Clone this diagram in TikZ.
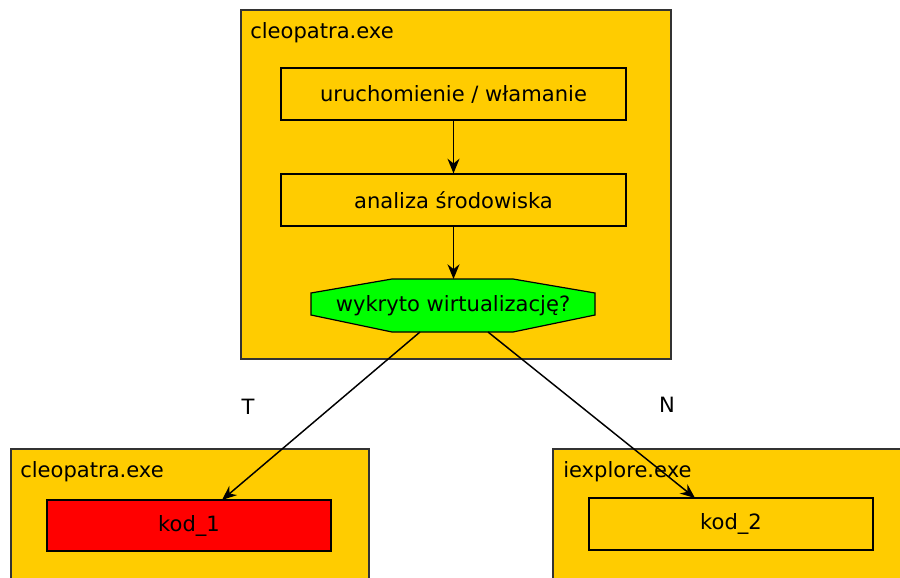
\documentclass[tikz,border=0pt]{standalone}
\usepackage{fontspec}
\setmainfont{DejaVu Sans}
\usetikzlibrary{arrows.meta}
\definecolor{boxorange}{RGB}{255,204,0}
\definecolor{qgreen}{RGB}{0,255,0}
\definecolor{kred}{RGB}{255,0,0}
\tikzset{
  txt/.style={font=\fontsize{15.8}{18}\selectfont},
  container/.style={draw=black!80, fill=boxorange, line width=0.9pt},
  stepbox/.style={draw=black, line width=0.9pt, minimum width=345*0.75pt, minimum height=52*0.75pt, inner sep=0pt, txt},
  lbl/.style={anchor=base west, inner sep=0pt, txt},
  edge/.style={draw=black, line width=1.1pt, -{Stealth[length=11pt,width=9pt]}},
}
\begin{document}
\begin{tikzpicture}[x=0.75pt,y=-0.75pt]
\useasboundingbox (0,0) rectangle (900,578);
% top container
\path[container] (241,10) rectangle (671,359);
\node[lbl] (toplbl) at (250,38) {cleopatra.exe};
\node[stepbox, fill=boxorange] (b1) at (453.5,94) {uruchomienie / włamanie};
\node[stepbox, fill=boxorange] (b2) at (453.5,200) {analiza środowiska};
% octagon
\path[draw=black, line width=0.9pt, fill=qgreen]
  (392,279) -- (513,279) -- (595,293) -- (595,315) -- (513,332) -- (392,332) -- (311,315) -- (311,293) -- cycle;
\node[inner sep=0pt, txt] (q) at (453,305.5) {wykryto wirtualizację?};
\coordinate (qtop) at (453.5,279);
\coordinate (qT) at (420,332);
\coordinate (qN) at (488,332);
\draw[edge] (b1.south) -- (b2.north);
\draw[edge] (b2.south) -- (qtop);
% bottom left
\path[container] (11,449) rectangle (369,590);
\node[lbl] (l1) at (20,477) {cleopatra.exe};
\node[stepbox, fill=kred, minimum width=284*0.75pt, minimum height=51*0.75pt] (k1) at (189,525.5) {kod\_1};
% bottom right
\path[container] (553,449) rectangle (910,590);
\node[lbl] (l2) at (563,477) {iexplore.exe};
\node[stepbox, fill=boxorange, minimum width=284*0.75pt, minimum height=52*0.75pt] (k2) at (731,524) {kod\_2};
\coordinate (k1in) at (222,500);
\coordinate (k2in) at (695,498);
\draw[edge] (qT) -- (k1in);
\draw[edge] (qN) -- (k2in);
\node[txt] (T) at (248,407) {T};
\node[txt] (N) at (667,405) {N};
\end{tikzpicture}
\end{document}
